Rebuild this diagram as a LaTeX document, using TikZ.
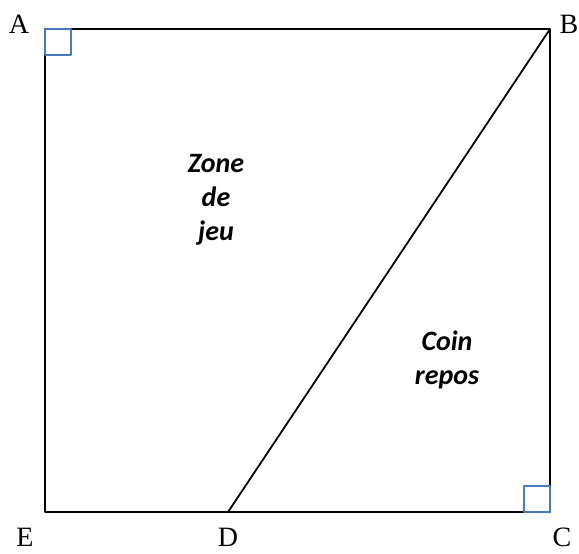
\documentclass[tikz,border=0pt]{standalone}
\usepackage{fontspec}
\setmainfont{Liberation Serif}
\newfontfamily\zonefont{Carlito}
\definecolor{anglebleu}{RGB}{74,122,190}
\begin{document}
\begin{tikzpicture}[x=1pt,y=-1pt,line cap=round,line join=round]
  \tikzset{
    cote/.style={line width=1.8pt},
    angledroit/.style={draw=anglebleu,line width=1.6pt},
    sommet/.style={anchor=base,font=\fontsize{28}{30}\selectfont,inner sep=0pt},
    zone/.style={align=center,inner sep=0pt,font=\zonefont\bfseries\itshape\fontsize{28}{34}\selectfont}
  }
  \useasboundingbox (0,0) rectangle (579,554);
  \coordinate (A) at (45,29);
  \coordinate (B) at (550,29);
  \coordinate (C) at (550,512);
  \coordinate (E) at (45,512);
  \coordinate (D) at (228,512);
  % le terrain
  \draw[cote] (A) -- (B) -- (C) -- (E) -- cycle;
  \draw[cote] (B) -- (D);
  % angles droits
  \draw[angledroit] (45,29) rectangle (71,55);
  \draw[angledroit] (524,486) rectangle (550,512);
  % sommets
  \node[sommet] (lA) at (19,34) {A};
  \node[sommet] (lB) at (569,34) {B};
  \node[sommet] (lC) at (562,546) {C};
  \node[sommet] (lE) at (25,546) {E};
  \node[sommet] (lD) at (228,546) {D};
  % zones
  \node[zone] (jeu) at (216,200) {Zone\\de\\jeu};
  \node[zone] (repos) at (447,360) {Coin\\repos};
\end{tikzpicture}
\end{document}
